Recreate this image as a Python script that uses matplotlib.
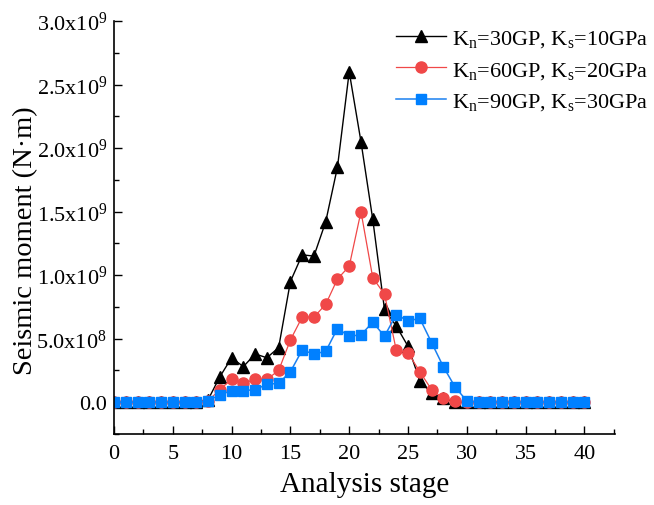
import matplotlib
matplotlib.use("Agg")
import matplotlib.pyplot as plt
from matplotlib.ticker import FuncFormatter, MultipleLocator
import numpy as np

plt.rcParams['font.family'] = ['Liberation Serif', 'DejaVu Serif']
plt.rcParams['mathtext.fontset'] = 'custom'
plt.rcParams['mathtext.rm'] = 'Liberation Serif'
plt.rcParams['mathtext.it'] = 'Liberation Serif'

stages = list(range(0, 41))
kn30 = [0, 0, 0, 0, 0, 0, 0, 0, 0.02, 0.20, 0.35, 0.28, 0.38, 0.35, 0.43, 0.95, 1.16, 1.15, 1.42, 1.85,
        2.60, 2.05, 1.44, 0.73, 0.60, 0.44, 0.17, 0.07, 0.03, 0, 0, 0, 0, 0, 0, 0, 0, 0, 0, 0, 0]
kn60 = [0, 0, 0, 0, 0, 0, 0, 0, 0.01, 0.10, 0.18, 0.15, 0.18, 0.18, 0.25, 0.49, 0.67, 0.67, 0.77, 0.97,
        1.07, 1.50, 0.98, 0.85, 0.41, 0.39, 0.24, 0.10, 0.03, 0.01, 0, 0, 0, 0, 0, 0, 0, 0, 0, 0, 0]
kn90 = [0, 0, 0, 0, 0, 0, 0, 0, 0.01, 0.06, 0.09, 0.09, 0.10, 0.14, 0.15, 0.24, 0.41, 0.38, 0.40, 0.58,
        0.52, 0.53, 0.63, 0.52, 0.69, 0.64, 0.66, 0.47, 0.28, 0.12, 0.01, 0, 0, 0, 0, 0, 0, 0, 0, 0, 0]
labels = [r'$\mathrm{K_n}$=30GP, $\mathrm{K_s}$=10GPa',
          r'$\mathrm{K_n}$=60GP, $\mathrm{K_s}$=20GPa',
          r'$\mathrm{K_n}$=90GP, $\mathrm{K_s}$=30GPa']

scale = 1e9
fig = plt.figure(figsize=(6.54, 5.06), dpi=100)
ax = fig.add_axes([0.1743, 0.1403, 0.7661, 0.8162])

ax.plot(stages, np.array(kn30) * scale, color='black', lw=1.0, marker='^', ms=9,
        mfc='black', mec='black', label=labels[0])
ax.plot(stages, np.array(kn60) * scale, color='#f04848', lw=0.9, marker='o', ms=8,
        mfc='#f04848', mec='#f04848', label=labels[1])
ax.plot(stages, np.array(kn90) * scale, color='#1a80f0', lw=1.1, marker='s', ms=7.5,
        mfc='#0080ff', mec='#0080ff', label=labels[2])

ax.set_xlim(0, 42.6)
ax.set_ylim(-0.25e9, 3.0e9)
ax.xaxis.set_major_locator(MultipleLocator(5))
ax.xaxis.set_minor_locator(MultipleLocator(2.5))
ax.yaxis.set_major_locator(MultipleLocator(0.5e9))
ax.yaxis.set_minor_locator(MultipleLocator(0.25e9))

def yfmt(v, pos):
    if abs(v) < 1:
        return '0.0'
    e = int(np.floor(np.log10(abs(v))))
    m = v / 10 ** e
    return r'%.1fx10$^{%d}$' % (m, e)

ax.yaxis.set_major_formatter(FuncFormatter(yfmt))
ax.tick_params(which='both', direction='in', labelsize=16, width=1)
ax.tick_params(which='major', length=6)
ax.tick_params(which='minor', length=3.5)
ax.tick_params(axis='x', pad=7)
ax.tick_params(axis='y', pad=5)
ax.spines['top'].set_visible(False)
ax.spines['right'].set_visible(False)
for s in ['left', 'bottom']:
    ax.spines[s].set_linewidth(1.2)

ax.set_xlabel('Analysis stage', fontsize=21, labelpad=6)
ax.set_ylabel('Seismic moment (N·m)', fontsize=20.5)
ax.yaxis.set_label_coords(-0.152, 0.47)

ax.legend(loc='upper left', bbox_to_anchor=(396 / 654, 1 - 29 / 506), bbox_transform=fig.transFigure,
          frameon=False, fontsize=16, borderpad=0, borderaxespad=0,
          handlelength=2.25, handletextpad=0.25, labelspacing=0.48)

fig.savefig('out.png', dpi=100)
